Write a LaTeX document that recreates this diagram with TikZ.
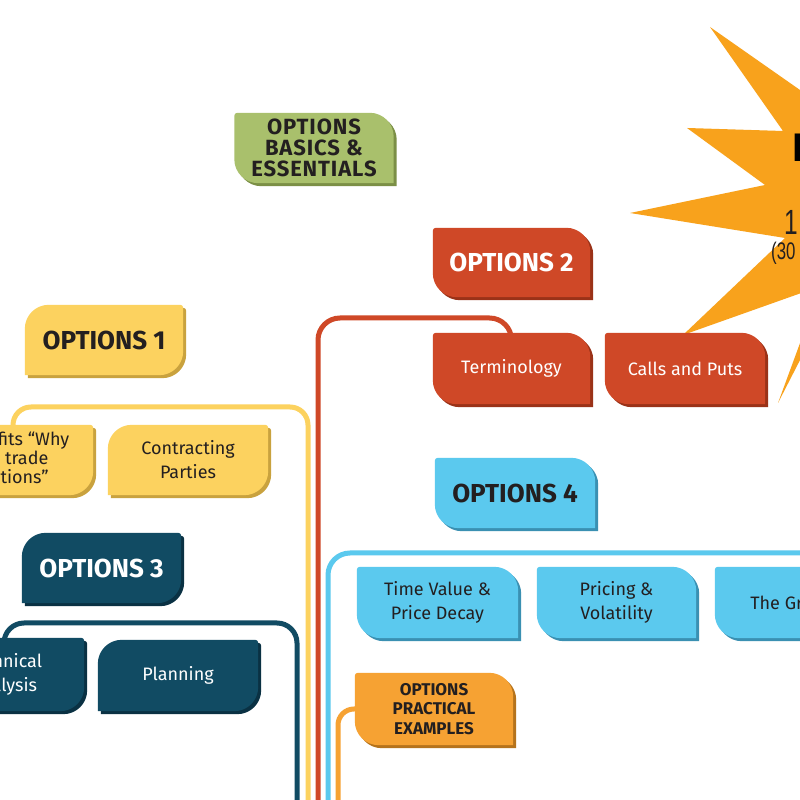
\documentclass[tikz,border=0pt]{standalone}
\usepackage{fontspec}
\usepackage{graphicx}
\setmainfont{Fira Sans}
\newfontfamily\condfont{Liberation Sans}
\newfontfamily\spacedfont[LetterSpace=4]{Fira Sans}
\usetikzlibrary{calc}
\definecolor{cYel}{HTML}{FCD25F}\definecolor{cYelS}{HTML}{C9A23E}
\definecolor{cRed}{HTML}{CF4827}\definecolor{cRedS}{HTML}{9A3218}
\definecolor{cTeal}{HTML}{114B63}\definecolor{cTealS}{HTML}{0A3143}
\definecolor{cBlue}{HTML}{5BC9EE}\definecolor{cBlueS}{HTML}{3A90B2}
\definecolor{cGrn}{HTML}{A9C06C}\definecolor{cGrnS}{HTML}{7B8F46}
\definecolor{cOrg}{HTML}{F6A233}\definecolor{cOrgS}{HTML}{B5731C}
\definecolor{cStar}{HTML}{F8A21C}
\definecolor{cDark}{HTML}{231F20}
\pgfdeclarelayer{bgzero}
\pgfdeclarelayer{bgone}
\pgfdeclarelayer{bgtwo}
\pgfsetlayers{bgzero,bgone,bgtwo,main}
% right family: top-right and bottom-left rounded
\newcommand\pR[2]{\fill[#2] ($(#1.south west)+(0,24)$) -- ($(#1.north west)+(0,-3)$) arc[start angle=180,end angle=90,radius=3pt] -- ($(#1.north east)+(-24,0)$) arc[start angle=90,end angle=0,radius=24pt] -- (#1.south east) -- ($(#1.south west)+(24,0)$) arc[start angle=270,end angle=180,radius=24pt] -- cycle;}
% left family: top-left and bottom-right rounded
\newcommand\pL[2]{\fill[#2] (#1.south west) -- ($(#1.north west)+(0,-24)$) arc[start angle=180,end angle=90,radius=24pt] -- ($(#1.north east)+(-3,0)$) arc[start angle=90,end angle=0,radius=3pt] -- ($(#1.south east)+(0,24)$) arc[start angle=0,end angle=-90,radius=24pt] -- cycle;}
\newcommand\boxR[3]{\begin{pgfonlayer}{bgtwo}\pR{#1}{#3,transform canvas={shift={(3pt,-3pt)}}}\pR{#1}{#2}\end{pgfonlayer}}
\newcommand\boxL[3]{\begin{pgfonlayer}{bgtwo}\pL{#1}{#3,transform canvas={shift={(3pt,-3pt)}}}\pL{#1}{#2}\end{pgfonlayer}}
\begin{document}
\begin{tikzpicture}[x=1pt,y=1pt,
  bx/.style={minimum width=158pt,minimum height=70pt,inner sep=0pt,align=center},
  hd/.style={font=\fontsize{26}{28}\selectfont\bfseries},
  sb/.style={font=\fontsize{18}{24}\selectfont},
  sbthree/.style={font=\fontsize{18}{19}\selectfont},
  conn/.style={line width=5pt}]
\useasboundingbox (0,0) rectangle (800,800);
\begin{pgfonlayer}{bgzero}
\fill[white] (0,0) rectangle (800,800);
\fill[cStar] (710,773) -- (783,669) -- (687,672) -- (765,615) -- (630,587) -- (785,562) -- (683,465) -- (821,514) -- (778,397) -- (840,518) -- (950,500) -- (950,800) -- (850,675) -- cycle;
\end{pgfonlayer}
% star text
\node[anchor=base west,inner sep=0pt,font=\condfont\bfseries\fontsize{40}{40}\selectfont,text=black] (sI) at (792,638) {I};
\node[anchor=base west,inner sep=0pt,font=\condfont\fontsize{35}{35}\selectfont,text=cDark] (sOne) at (784,565) {\scalebox{0.7}[1]{1}};
\node[anchor=base west,inner sep=0pt,font=\condfont\fontsize{24}{24}\selectfont,text=cDark] (sThirty) at (771,540) {\scalebox{0.7}[1]{(30}};
% nodes
\node[bx,text=cDark,minimum width=159pt,font=\spacedfont\fontsize{22}{21}\selectfont\bfseries] (basics) at (314,652) {OPTIONS\\BASICS \&\\ESSENTIALS};
\node[bx,hd,text=white,minimum width=157pt,minimum height=69pt] (o2) at (511.5,537.5) {OPTIONS 2};
\node[bx,sb,text=white,minimum width=157pt,minimum height=71pt] (term) at (511.5,431.5) {Terminology};
\node[bx,sb,text=white,minimum width=160pt,minimum height=71pt] (calls) at (685,431.5) {Calls and Puts};
\node[bx,hd,text=cDark] (o1) at (104,460) {OPTIONS 1};
\node[bx,sbthree,text=cDark,minimum width=160pt] (ben) at (13,340) {Benefits “Why\\we trade\\Options”};
\node[bx,sb,text=cDark,minimum width=160pt] (con) at (188,340) {Contracting\\Parties};
\node[bx,hd,text=white,minimum width=159pt] (o3) at (101.5,232) {OPTIONS 3};
\node[bx,sb,text=white,minimum width=160pt,minimum height=73pt] (tech) at (4,125.5) {Technical\\Analysis};
\node[bx,sb,text=white,minimum width=160pt,minimum height=71pt] (plan) at (178,124.5) {Planning};
\node[bx,hd,text=cDark,minimum width=160pt] (o4) at (515,307) {OPTIONS 4};
\node[bx,sb,text=cDark,minimum width=161pt,minimum height=71pt] (tv) at (437.5,197.5) {Time Value \&\\Price Decay};
\node[bx,sb,text=cDark,minimum width=159pt,minimum height=71pt] (pv) at (616.5,197.5) {Pricing \&\\Volatility};
\node[bx,sb,text=cDark,minimum width=160pt,minimum height=71pt] (gr) at (795,197.5) {The Greeks};
\node[bx,text=cDark,minimum height=72pt,font=\fontsize{17}{19.5}\selectfont\bfseries] (prac) at (434,91) {OPTIONS\\PRACTICAL\\EXAMPLES};
% box shapes
\boxR{basics}{cGrn}{cGrnS}
\boxR{o2}{cRed}{cRedS}
\boxR{term}{cRed}{cRedS}
\boxR{calls}{cRed}{cRedS}
\boxR{o4}{cBlue}{cBlueS}
\boxR{tv}{cBlue}{cBlueS}
\boxR{pv}{cBlue}{cBlueS}
\boxR{gr}{cBlue}{cBlueS}
\boxR{prac}{cOrg}{cOrgS}
\boxL{o1}{cYel}{cYelS}
\boxL{ben}{cYel}{cYelS}
\boxL{con}{cYel}{cYelS}
\boxL{o3}{cTeal}{cTealS}
\boxL{tech}{cTeal}{cTealS}
\boxL{plan}{cTeal}{cTealS}
% connectors
\coordinate (yEnd) at (308,-10);
\coordinate (rEnd) at (318,-10);
\coordinate (tEnd) at (297,-10);
\coordinate (bEnd) at (328,-10);
\coordinate (bStart) at (810,247);
\coordinate (oEnd) at (338,-10);
\begin{pgfonlayer}{bgone}
\draw[conn,cYel,rounded corners=18pt] (ben.center) -- ++(0,53) -| (yEnd);
\draw[conn,cRed,rounded corners=22pt] (term.center) -- ++(0,50.5) -| (rEnd);
\draw[conn,cTeal,rounded corners=20pt] (tech.center) -- ++(0,51.5) -| (tEnd);
\draw[conn,cBlue,rounded corners=22pt] (bStart) -| (bEnd);
\draw[conn,cOrg,rounded corners=16pt] (prac.center) -| (oEnd);
\end{pgfonlayer}
\end{tikzpicture}
\end{document}
